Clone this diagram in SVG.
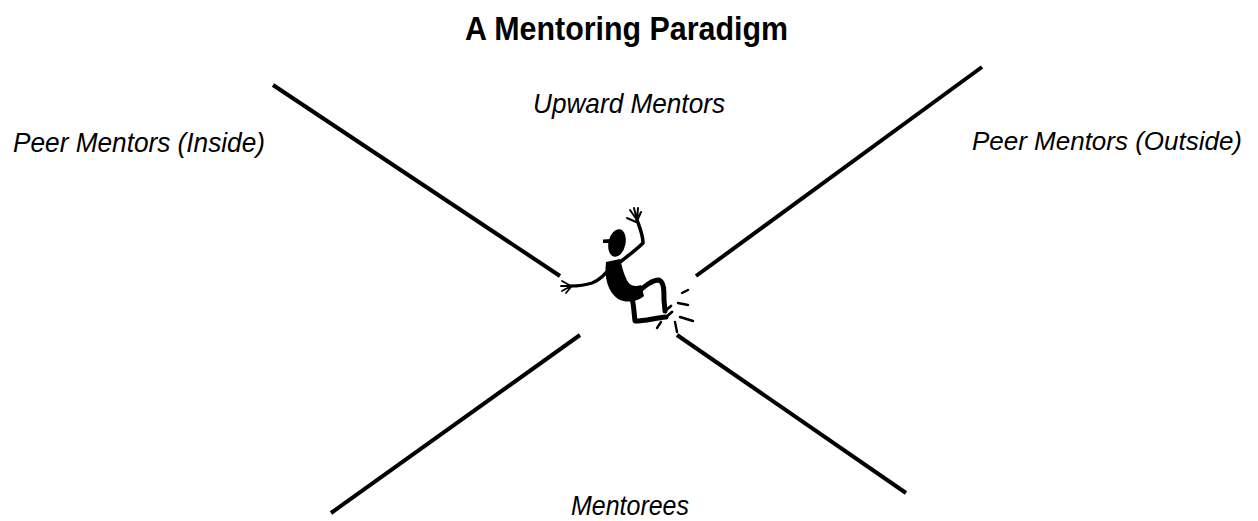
<svg xmlns="http://www.w3.org/2000/svg" width="1258" height="521" viewBox="0 0 1258 521">
<style>
.lbl{font-family:"Liberation Sans Narrow","Liberation Sans",Arial,sans-serif;font-style:italic;font-size:28px;fill:#000}
.title{font-family:"Liberation Sans Narrow","Liberation Sans",Arial,sans-serif;font-weight:bold;font-size:34px;fill:#000}
.ln{stroke:#000;stroke-width:4;stroke-linecap:butt;fill:none}
.limb{stroke:#000;fill:none;stroke-linecap:round;stroke-linejoin:round}
</style>
<rect width="1258" height="521" fill="#fff"/>
<g id="title"><text class="title" x="465" y="40" textLength="323" lengthAdjust="spacingAndGlyphs">A Mentoring Paradigm</text></g>
<g id="upward-mentors"><text class="lbl" x="533" y="113" textLength="192" lengthAdjust="spacingAndGlyphs">Upward Mentors</text></g>
<g id="peer-inside"><text class="lbl" x="13" y="152" textLength="252" lengthAdjust="spacingAndGlyphs">Peer Mentors (Inside)</text></g>
<g id="peer-outside"><text class="lbl" x="972" y="150" textLength="270" lengthAdjust="spacingAndGlyphs" style="font-size:26.5px">Peer Mentors (Outside)</text></g>
<g id="mentorees"><text class="lbl" x="571" y="515" textLength="118" lengthAdjust="spacingAndGlyphs">Mentorees</text></g>
<g id="connectors">
<line class="ln" x1="273" y1="85" x2="560" y2="276"/>
<line class="ln" x1="982" y1="67" x2="696" y2="276"/>
<line class="ln" x1="580" y1="335" x2="331" y2="513"/>
<line class="ln" x1="677" y1="335" x2="906" y2="493"/>
</g>
<g id="figure">
<ellipse cx="617" cy="243" rx="8.5" ry="14" transform="rotate(12 617 243)" fill="#000"/>
<path d="M603 239.5 L611 239 L611 243 L603 243 Z" fill="#000"/>
<path class="limb" stroke-width="3.5" d="M620 262 C628 256 636 250 643 243 C643 235 640 228 637 220"/>
<path class="limb" stroke-width="2" d="M637 220 L630 210 M637 220 L634 208 M637 220 L638 208 M637 221 L641 212 M636 222 L627 218"/>
<path class="limb" stroke-width="3.2" d="M612 265 C606 274 600 280 592 283 C583 286 576 286 570 286"/>
<path class="limb" stroke-width="1.8" d="M571 286 L562 281 M571 286 L561 286 M571 286 L562 291 M571 287 L566 293"/>
<path d="M606 262 C604 278 608 292 618 299 C628 304 638 301 644 296 L641 285 C633 288 628 284 626 278 C623 272 622 266 620 259 Z" fill="#000"/>
<path class="limb" stroke-width="5" d="M638 292 C645 286 652 280 659 280 C664 282 664 290 664 300 L665 311"/>
<path class="limb" stroke-width="5" d="M632 298 C634 306 634 314 635 321 C645 321 655 318 666 317"/>
<path class="limb" stroke-width="2.8" d="M665 311 L671 306 M666 317 L672 312"/>
<path class="limb" stroke-width="2.4" d="M682 293 L688 290 M678 303 L688 305 M680 317 L693 321 M675 322 L677 332 M657 328 L661 322"/>
</g>
</svg>
